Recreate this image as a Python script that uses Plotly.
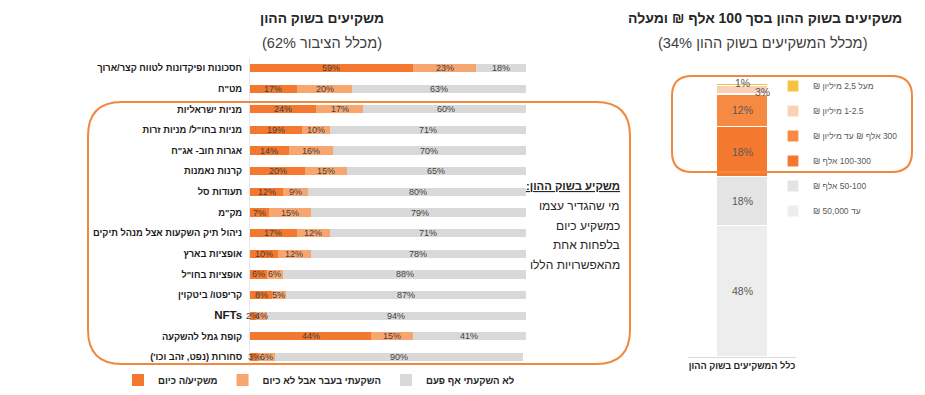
import plotly.graph_objects as go

W, H = 925, 395
RLM = "\u200f"

def rtl(s):
    return RLM + s + RLM

def ltr(s):
    return "\u202a" + s + "\u202c"

# ---------------- data: left chart ----------------
categories = [
    "חסכונות ופיקדונות לטווח קצר/ארוך",
    'מט"ח',
    "מניות ישראליות",
    'מניות בחו"ל/ מניות זרות',
    'אגרות חוב- אג"ח',
    "קרנות נאמנות",
    "תעודות סל",
    'מק"מ',
    "ניהול תיק השקעות אצל מנהל תיקים",
    "אופציות בארץ",
    'אופציות בחו"ל',
    "קריפטו/ ביטקוין",
    "NFTs",
    "קופת גמל להשקעה",
    "סחורות (נפט, זהב וכו')",
]
invest_now = [59, 17, 24, 19, 14, 20, 12, 7, 17, 10, 6, 8, 2, 44, 3]
invest_past = [23, 20, 17, 10, 16, 15, 9, 15, 12, 12, 6, 5, 4, 15, 6]
never = [18, 63, 60, 71, 70, 65, 80, 79, 71, 78, 88, 87, 94, 41, 90]
left_series_names = ["משקיע/ה כיום", "השקעתי בעבר אבל לא כיום", "לא השקעתי אף פעם"]
left_colors = ["#F4792E", "#F8A66F", "#D9D9D9"]

# ---------------- data: right chart ----------------
right_category = "כלל המשקיעים בשוק ההון"
wealth_names = ["עד 50,000 ₪", "50-100 אלף ₪", "100-300 אלף ₪",
                "300 אלף ₪ עד מיליון ₪", "1-2.5 מיליון ₪", "מעל 2,5 מיליון ₪"]
wealth_values = [48, 18, 18, 12, 3, 1]
wealth_colors = ["#EDEDED", "#E4E4E4", "#F4792E", "#F78A42", "#FAD0B6", "#F5C342"]

FONT = "Liberation Sans, Arial, DejaVu Sans, sans-serif"

def px_x(x):
    return x / W

def px_y(y):
    return 1 - y / H

fig = go.Figure()
annotations = []

# left chart bars
ypos = list(range(len(categories)))
left_series = [invest_now, invest_past, never]
for name, vals, col in zip(left_series_names, left_series, left_colors):
    fig.add_trace(go.Bar(
        y=ypos, x=vals, orientation="h", name=rtl(name),
        marker=dict(color=col, line=dict(width=0)),
        width=0.4, textposition="none",
        xaxis="x", yaxis="y", legend="legend",
        hoverinfo="skip",
    ))

# value labels centred in each stacked segment (from the data)
for r in ypos:
    start = 0
    for vals in left_series:
        v = vals[r]
        annotations.append(dict(
            x=start + v / 2, y=r, xref="x", yref="y", text=f"{v}%",
            showarrow=False, xanchor="center", yanchor="middle",
            font=dict(size=9, color="#404040", family=FONT)))
        start += v

# right chart stacked bar
n = len(wealth_values)
for i, (name, v, col) in enumerate(zip(wealth_names, wealth_values, wealth_colors)):
    fig.add_trace(go.Bar(
        x=[right_category], y=[v], name=rtl(name),
        marker=dict(color=col, line=dict(color="white", width=1.2)),
        width=0.47, textposition="none",
        xaxis="x2", yaxis="y2", legend="legend2", legendgroup=f"g{i}",
        legendrank=n - i,
        hoverinfo="skip",
    ))

cum = 0
for v in wealth_values:
    mid = cum + v / 2
    cum += v
    if v >= 10:
        xs, ys = 0, 0
    elif v == 1:
        xs, ys = 0, 1
    else:
        xs, ys = 20, -2
    annotations.append(dict(
        x=right_category, y=mid, xref="x2", yref="y2", text=f"{v}%",
        showarrow=False, xshift=xs, yshift=ys,
        xanchor="center", yanchor="middle",
        font=dict(size=10.5, color="#595959", family=FONT)))

# titles
annotations += [
    dict(x=px_x(322), y=px_y(18), xref="paper", yref="paper",
         text=rtl("<b>משקיעים בשוק ההון</b>"), showarrow=False,
         xanchor="center", yanchor="middle",
         font=dict(size=13.8, color="#262626", family=FONT)),
    dict(x=px_x(322), y=px_y(43), xref="paper", yref="paper",
         text=ltr("(62% מכלל הציבור)"), showarrow=False,
         xanchor="center", yanchor="middle",
         font=dict(size=14.5, color="#404040", family=FONT)),
    dict(x=px_x(765), y=px_y(18), xref="paper", yref="paper",
         text=rtl("<b>משקיעים בשוק ההון בסך 100 אלף ₪ ומעלה</b>"), showarrow=False,
         xanchor="center", yanchor="middle",
         font=dict(size=14, color="#262626", family=FONT)),
    dict(x=px_x(763), y=px_y(43), xref="paper", yref="paper",
         text=ltr("(34% מכלל המשקיעים בשוק ההון)"), showarrow=False,
         xanchor="center", yanchor="middle",
         font=dict(size=14.6, color="#404040", family=FONT)),
]

# explanatory text box
box_lines = ["<b><u>משקיע בשוק ההון:</u></b>", "מי שהגדיר עצמו", "כמשקיע כיום",
             "בלפחות אחת", "מהאפשרויות הללו"]
for i, line in enumerate(box_lines):
    annotations.append(dict(
        x=px_x(622), y=px_y(186 + i * 19.8), xref="paper", yref="paper",
        xanchor="right", yanchor="middle", text=rtl(line), showarrow=False,
        font=dict(size=11.3 if i == 0 else 12, color="#262626", family=FONT)))


def rounded_rect(x0, y0, x1, y1, r):
    def P(x, y):
        return f"{px_x(x):.5f},{px_y(y):.5f}"
    return (f"M {P(x0 + r, y0)} L {P(x1 - r, y0)} Q {P(x1, y0)} {P(x1, y0 + r)} "
            f"L {P(x1, y1 - r)} Q {P(x1, y1)} {P(x1 - r, y1)} "
            f"L {P(x0 + r, y1)} Q {P(x0, y1)} {P(x0, y1 - r)} "
            f"L {P(x0, y0 + r)} Q {P(x0, y0)} {P(x0 + r, y0)} Z")

shapes = [
    dict(type="path", xref="paper", yref="paper",
         path=rounded_rect(88, 102, 630, 364, 34),
         line=dict(color="#F0883F", width=2)),
    dict(type="path", xref="paper", yref="paper",
         path=rounded_rect(672, 76, 912, 172, 20),
         line=dict(color="#F0883F", width=2)),
]

tick_labels = [
    "<span style='font-size:11.5px'>NFTs</span>" if c == "NFTs" else rtl(c)
    for c in categories
]

fig.update_layout(
    width=W, height=H,
    margin=dict(l=0, r=0, t=0, b=0, autoexpand=False),
    paper_bgcolor="white", plot_bgcolor="white",
    barmode="stack",
    font=dict(family=FONT, color="#262626"),
    showlegend=True,
    xaxis=dict(domain=[px_x(250), px_x(526)], range=[0, 100], visible=False,
               fixedrange=True),
    yaxis=dict(domain=[px_y(367.3), px_y(57.7)], range=[14.5, -0.5],
               tickvals=ypos, ticktext=tick_labels,
               tickfont=dict(size=9.3, color="#1a1a1a", family=FONT, weight="bold"),
               showline=True, linecolor="#E6E6E6", linewidth=1,
               showgrid=False, zeroline=False, ticks="", ticklabelstandoff=5,
               anchor="x", automargin=False),
    xaxis2=dict(domain=[px_x(688), px_x(796)], anchor="y2",
                showline=True, linecolor="#D9D9D9", linewidth=1,
                tickfont=dict(size=9.2, color="#262626", family=FONT, weight="bold"),
                ticktext=[rtl(right_category)], tickvals=[right_category],
                ticks="", showgrid=False, automargin=False),
    yaxis2=dict(domain=[px_y(357), px_y(83)], range=[0, 100], visible=False,
                anchor="x2"),
    legend=dict(orientation="h", x=px_x(118), y=px_y(380), xanchor="left",
                yanchor="middle", font=dict(size=9.6, color="#262626", family=FONT,
                                            weight="bold"),
                traceorder="normal", itemwidth=30, bgcolor="rgba(0,0,0,0)"),
    legend2=dict(orientation="v", x=px_x(773), y=px_y(71.5), xanchor="left",
                 yanchor="top", font=dict(size=8.5, color="#595959", family=FONT),
                 traceorder="grouped", tracegroupgap=6, itemwidth=30,
                 bgcolor="rgba(0,0,0,0)"),
    annotations=annotations,
    shapes=shapes,
)

fig.write_html("out.html", config={"displayModeBar": False},
               post_script="document.body.style.margin='0';document.body.style.overflow='hidden';")
